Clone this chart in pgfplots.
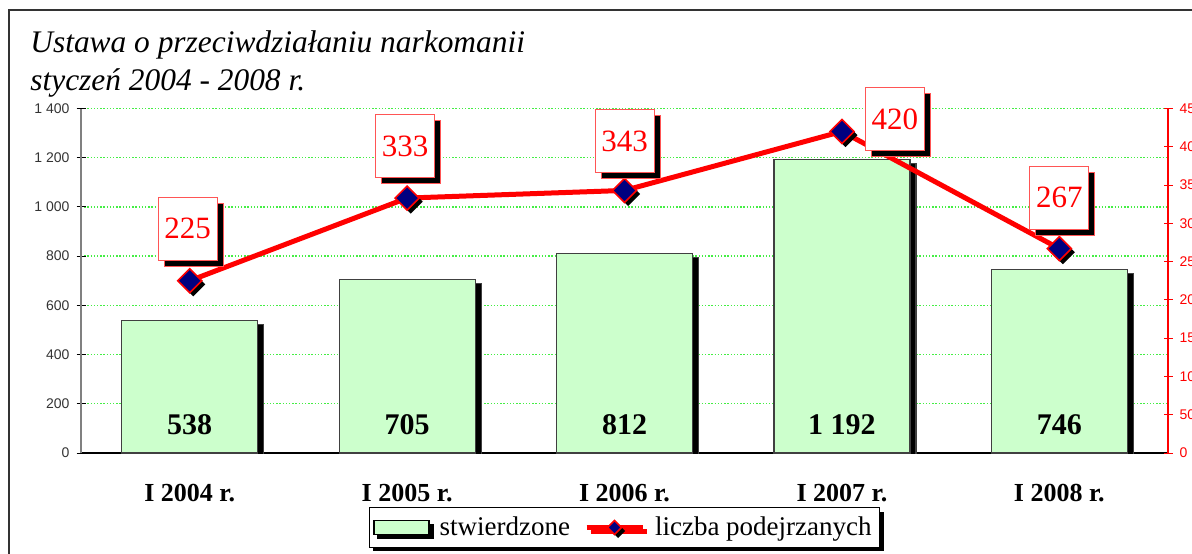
\documentclass[border=0pt]{standalone}
\usepackage{fontspec}
\setmainfont{Liberation Serif}
\newfontfamily\sansf{Liberation Sans}
\usepackage{pgfplots}
\pgfplotsset{compat=1.18}
\usetikzlibrary{shadows}
\definecolor{barfill}{HTML}{CCFFCC}
\definecolor{gridgreen}{HTML}{44EE44}
\definecolor{navymark}{HTML}{000080}
\definecolor{boxred}{HTML}{FF5555}

\pgfdeclareplotmark{shdiamond}{%
  \begin{pgfscope}
    \pgfsetfillcolor{black}
    \pgftransformshift{\pgfpoint{1.8pt}{-1.8pt}}
    \pgfpathmoveto{\pgfpoint{0pt}{\pgfplotmarksize}}
    \pgfpathlineto{\pgfpoint{\pgfplotmarksize}{0pt}}
    \pgfpathlineto{\pgfpoint{0pt}{-\pgfplotmarksize}}
    \pgfpathlineto{\pgfpoint{-\pgfplotmarksize}{0pt}}
    \pgfpathclose
    \pgfusepath{fill}
  \end{pgfscope}
  \pgfpathmoveto{\pgfpoint{0pt}{\pgfplotmarksize}}
  \pgfpathlineto{\pgfpoint{\pgfplotmarksize}{0pt}}
  \pgfpathlineto{\pgfpoint{0pt}{-\pgfplotmarksize}}
  \pgfpathlineto{\pgfpoint{-\pgfplotmarksize}{0pt}}
  \pgfpathclose
  \pgfusepathqfillstroke
}

\pgfplotsset{
  barlegend/.style={legend image code/.code={\draw[fill=barfill, draw=black, line width=0.6pt] (0pt,-3.5pt) rectangle (27.5pt,3.5pt);}},
  linelegend/.style={legend image code/.code={\draw[##1, mark size=3.5pt, mark repeat=2, mark phase=2] plot coordinates {(0pt,0pt) (14pt,0pt) (28pt,0pt)};}},
}

\begin{document}
\begin{tikzpicture}
\draw[line width=1pt, black!80] (4.5pt,-10pt) rectangle (700pt,271.5pt);

\begin{axis}[
  at={(40.5pt,50pt)}, anchor=south west,
  scale only axis, width=543.5pt, height=172.25pt,
  xmin=-0.5, xmax=4.5, ymin=0, ymax=1400,
  axis y line*=left, axis x line*=bottom,
  ytick={0,200,...,1400},
  xtick={0,...,4},
  xticklabels={I 2004 r.,I 2005 r.,I 2006 r.,I 2007 r.,I 2008 r.},
  x tick style={draw=none},
  minor xtick={0.5,1.5,2.5,3.5},
  minor x tick style={black, line width=0.5pt},
  minor tick length=6pt,
  tick align=center,
  major tick length=4.5pt,
  y axis line style={draw=gray, line width=0.8pt},
  x axis line style={black, line width=0.6pt},
  ytick style={black, line width=0.5pt},
  ymajorgrids,
  major grid style={gridgreen, line width=0.7pt, dash pattern=on 0.7pt off 0.9pt},
  yticklabel style={font=\sansf\fontsize{7}{8}\selectfont, text=black!80},
  /pgf/number format/assume math mode=true,
  /pgf/number format/1000 sep={\ },
  xticklabel style={font=\bfseries\fontsize{13}{15}\selectfont, anchor=base, yshift=-22pt},
]
\addplot[ybar, bar width=68pt, fill=barfill, draw=black!75, line width=0.6pt,
  drop shadow={shadow xshift=3pt, shadow yshift=-2pt, opacity=1, fill=black}]
  coordinates {(0,538) (1,705) (2,812) (3,1192) (4,746)};
\addplot[draw=none, mark=none, nodes near coords, point meta=explicit,
  nodes near coords style={anchor=base, yshift=9.5pt, text=black,
    font=\bfseries\fontsize{15}{17}\selectfont}]
  coordinates {(0,0) [538] (1,0) [705] (2,0) [812] (3,0) [1192] (4,0) [746]};
\end{axis}

\begin{axis}[
  at={(40.5pt,50pt)}, anchor=south west,
  scale only axis, width=543.5pt, height=172.25pt,
  xmin=-0.5, xmax=4.5, ymin=0, ymax=450,
  axis y line*=right, axis x line=none,
  ytick={0,50,...,450},
  tick align=center, major tick length=4.5pt,
  y axis line style={red, line width=0.75pt},
  ytick style={red, line width=0.5pt},
  yticklabel style={font=\sansf\fontsize{7}{8}\selectfont, text=red},
  /pgf/number format/assume math mode=true,
  legend style={at={(0.5,0)}, anchor=north, yshift=-27pt, legend columns=2,
    draw=black, line width=0.6pt, fill=white,
    font=\fontsize{13.5}{15}\selectfont,
    drop shadow={shadow xshift=2pt, shadow yshift=-2pt, opacity=1, fill=black},
    inner xsep=2pt, inner ysep=2.5pt,
    /tikz/every odd column/.append style={column sep=3pt},
    /tikz/every even column/.append style={column sep=5pt}},
  legend cell align=left,
]
\addlegendimage{barlegend}
\addlegendentry{stwierdzone}
\addplot[red, line width=2.5pt, mark=shdiamond, mark size=6pt,
  mark options={fill=navymark, draw=red, line width=0.8pt, solid},
  nodes near coords, point meta=y,
  visualization depends on={value \thisrow{dx}\as\dx},
  visualization depends on={value \thisrow{dy}\as\dy},
  nodes near coords style={anchor=center, xshift=\dx pt, yshift=\dy pt,
    draw=boxred, fill=white, line width=0.5pt, text=red,
    font=\fontsize{15.5}{17}\selectfont,
    minimum width=29.5pt, minimum height=31.5pt, inner sep=0pt,
    drop shadow={shadow xshift=3pt, shadow yshift=-3pt, opacity=1, fill=black}},
  linelegend
] table {
x y dx dy
0 225 -1 26
1 333 -1 26
2 343 0 24.5
3 420 26.5 6
4 267 0 25.5
};
\addlegendentry{liczba podejrzanych}
\end{axis}

\node[anchor=base west, inner sep=0pt, font=\itshape\fontsize{15.7}{19}\selectfont] at (15pt,250.5pt) {Ustawa o przeciwdziałaniu narkomanii};
\node[anchor=base west, inner sep=0pt, font=\itshape\fontsize{15.7}{19}\selectfont] at (15pt,231.5pt) {styczeń 2004 - 2008 r.};

\pgfresetboundingbox
\path[use as bounding box] (0,0) rectangle (596pt,276.5pt);
\end{tikzpicture}
\end{document}
